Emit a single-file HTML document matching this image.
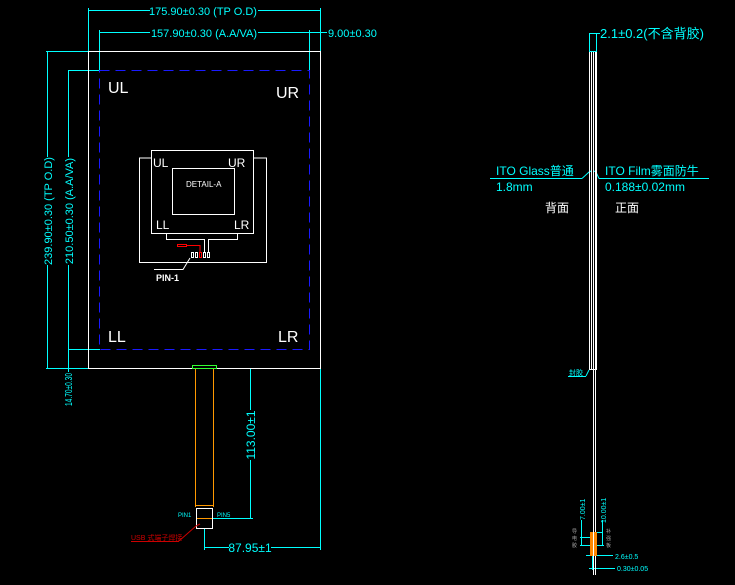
<!DOCTYPE html>
<html><head><meta charset="utf-8"><style>
html,body{margin:0;padding:0;background:#000;}
svg{display:block}
text{font-family:"Liberation Sans","Noto Sans CJK SC",sans-serif;}
</style></head><body>
<svg width="735" height="585" viewBox="0 0 735 585" xmlns="http://www.w3.org/2000/svg">
<rect width="735" height="585" fill="#000"/>
<g stroke="#0ff" stroke-width="1" fill="none">
  <line x1="88.5" y1="8" x2="88.5" y2="52"/>
  <line x1="320.5" y1="8" x2="320.5" y2="52"/>
  <line x1="88" y1="10.5" x2="150" y2="10.5"/><line x1="258" y1="10.5" x2="320" y2="10.5"/>
  <line x1="99.5" y1="30" x2="99.5" y2="70"/>
  <line x1="309.5" y1="30" x2="309.5" y2="70"/>
  <line x1="100" y1="32.5" x2="150" y2="32.5"/><line x1="258" y1="32.5" x2="327" y2="32.5"/>
  <line x1="46" y1="51.5" x2="88" y2="51.5"/>
  <line x1="68" y1="70.5" x2="100" y2="70.5"/>
  <line x1="46" y1="368.5" x2="88" y2="368.5"/>
  <line x1="68" y1="349.5" x2="100" y2="349.5"/>
  <line x1="47.5" y1="51" x2="47.5" y2="157"/><line x1="47.5" y1="265" x2="47.5" y2="368"/>
  <line x1="68.5" y1="70" x2="68.5" y2="157"/><line x1="68.5" y1="265" x2="68.5" y2="372"/>
  <line x1="213" y1="368.5" x2="320" y2="368.5"/>
  <line x1="250.5" y1="368" x2="250.5" y2="410"/><line x1="250.5" y1="460" x2="250.5" y2="518"/>
  <line x1="213" y1="518.5" x2="253" y2="518.5"/>
  <line x1="320.5" y1="368" x2="320.5" y2="550"/>
  <line x1="204.5" y1="528" x2="204.5" y2="550"/>
  <line x1="205" y1="547.5" x2="229" y2="547.5"/><line x1="271" y1="547.5" x2="320" y2="547.5"/>
  <rect x="589.5" y="33.5" width="7" height="18"/>
  <line x1="597" y1="33.5" x2="600" y2="33.5"/>
  <line x1="490" y1="178.5" x2="582" y2="178.5"/>
  <polyline points="582,178.5 589,172 591,171"/>
  <polyline points="599,178.5 596,172 594,171"/>
  <line x1="599" y1="178.5" x2="709" y2="178.5"/>
  <line x1="568" y1="376.5" x2="586" y2="376.5"/><polyline points="586,376 589,370"/>
  <line x1="581.5" y1="520" x2="581.5" y2="545"/>
  <line x1="602.5" y1="520" x2="602.5" y2="545"/>
  <line x1="580" y1="537.5" x2="595" y2="537.5"/>
  <line x1="596" y1="532.5" x2="603" y2="532.5"/>
  <line x1="580" y1="545.5" x2="604" y2="545.5"/>
  <line x1="586" y1="555.5" x2="613" y2="555.5"/>
  <line x1="589" y1="568.5" x2="615" y2="568.5"/>
  <line x1="592.5" y1="545" x2="592.5" y2="570"/>
  <line x1="595.5" y1="545" x2="595.5" y2="570"/>
</g>
<rect x="88.5" y="51.5" width="232" height="317" fill="none" stroke="#fff"/>
<rect x="99.5" y="70.5" width="210" height="279" fill="none" stroke="#1a1aff" stroke-dasharray="10,6"/>
<g fill="#fff" font-size="16">
<text x="108" y="93">UL</text><text x="276" y="98">UR</text>
<text x="108" y="342">LL</text><text x="278" y="342">LR</text>
</g>
<g stroke="#fff" fill="none">
<polyline points="151,158 139.5,158 139.5,262.5 266.5,262.5 266.5,158 254,158"/>
<rect x="151.5" y="150.5" width="102" height="83"/>
<rect x="172.5" y="168.5" width="62" height="46"/>
<polyline points="166.5,234 166.5,239.5 204.5,239.5 204.5,252"/>
<polyline points="237.5,234 237.5,239.5 208.5,239.5 208.5,252"/>
<rect x="191.5" y="252.5" width="2" height="5"/><rect x="195.5" y="252.5" width="2" height="5"/>
<rect x="203.5" y="252.5" width="2" height="5"/><rect x="207.5" y="252.5" width="2" height="5"/>
<polyline points="154,269.5 183,269.5 190,258"/>
</g>
<g stroke="#f00" fill="none"><rect x="177.5" y="244.5" width="9" height="2"/><polyline points="187,245.5 200,245.5 200,252"/><rect x="199.5" y="252.5" width="2" height="5"/></g>
<g fill="#fff" font-size="12"><text x="153" y="167">UL</text><text x="228" y="167">UR</text><text x="156" y="229">LL</text><text x="234" y="229">LR</text></g>
<text x="186" y="187" fill="#fff" font-size="8">DETAIL-A</text>
<text x="156" y="281" fill="#fff" font-size="9" font-weight="bold">PIN-1</text>
<g stroke="#f90" fill="none"><line x1="195.5" y1="369" x2="195.5" y2="507"/><line x1="213.5" y1="369" x2="213.5" y2="507"/><line x1="195" y1="505.5" x2="214" y2="505.5"/><line x1="196" y1="518.5" x2="212" y2="518.5"/></g>
<rect x="196.5" y="508.5" width="16" height="20" fill="none" stroke="#fff"/>
<rect x="192.5" y="365.5" width="24" height="3" fill="none" stroke="#3f3"/>
<polyline points="179,541 196,526 200,524" stroke="#c00" fill="none"/>
<line x1="131" y1="541.5" x2="179" y2="541.5" stroke="#c00"/>
<text x="131" y="540" fill="#c00" font-size="7">USB 式端子焊接</text>
<g fill="#0ff">
<text x="203" y="15" font-size="11" text-anchor="middle">175.90±0.30 (TP O.D)</text>
<text x="204" y="37" font-size="11" text-anchor="middle">157.90±0.30 (A.A/VA)</text>
<text x="328" y="37" font-size="11">9.00±0.30</text>
<text transform="translate(52,211) rotate(-90)" font-size="11" text-anchor="middle">239.90±0.30 (TP O.D)</text>
<text transform="translate(73,211) rotate(-90)" font-size="11" text-anchor="middle">210.50±0.30 (A.A/VA)</text>
<text transform="translate(72,406) rotate(-90)" font-size="10" textLength="33" lengthAdjust="spacingAndGlyphs">14.70±0.30</text>
<text transform="translate(255,435) rotate(-90)" font-size="12" text-anchor="middle">113.00±1</text>
<text x="250" y="552" font-size="12" text-anchor="middle">87.95±1</text>
<text x="178" y="517" font-size="6">PIN1</text><text x="217" y="517" font-size="6">PIN5</text>
<text x="600" y="38" font-size="13">2.1±0.2(不含背胶)</text>
<text x="496" y="175" font-size="12">ITO Glass普通</text>
<text x="496" y="191" font-size="12">1.8mm</text>
<text x="605" y="175" font-size="12">ITO Film雾面防牛</text>
<text x="605" y="191" font-size="12">0.188±0.02mm</text>
<text x="569" y="375" font-size="7">封胶</text>
<text transform="translate(585,520) rotate(-90)" font-size="7">7.00±1</text>
<text transform="translate(606,523) rotate(-90)" font-size="7">10.00±1</text>
<text x="615" y="559" font-size="7">2.6±0.5</text>
<text x="617" y="571" font-size="7">0.30±0.05</text>
</g>
<g fill="#aaa" font-size="5"><text x="572" y="533">导</text><text x="572" y="540">电</text><text x="572" y="547">胶</text><text x="606" y="533">补</text><text x="606" y="540">强</text><text x="606" y="547">板</text></g>
<text x="545" y="212" fill="#fff" font-size="12">背面</text>
<text x="615" y="212" fill="#fff" font-size="12">正面</text>
<g stroke="#fff" fill="none">
<line x1="589.5" y1="52" x2="589.5" y2="369"/>
<line x1="591.5" y1="52" x2="591.5" y2="369"/>
<line x1="593.5" y1="52" x2="593.5" y2="575"/>
<line x1="595.5" y1="52" x2="595.5" y2="575"/>
<line x1="596.5" y1="52" x2="596.5" y2="369"/>
<line x1="589" y1="369.5" x2="597" y2="369.5"/>
</g>
<rect x="590" y="532" width="3" height="24" fill="#f80"/><rect x="594" y="532" width="3" height="24" fill="#f80"/>
</svg>
</body></html>
